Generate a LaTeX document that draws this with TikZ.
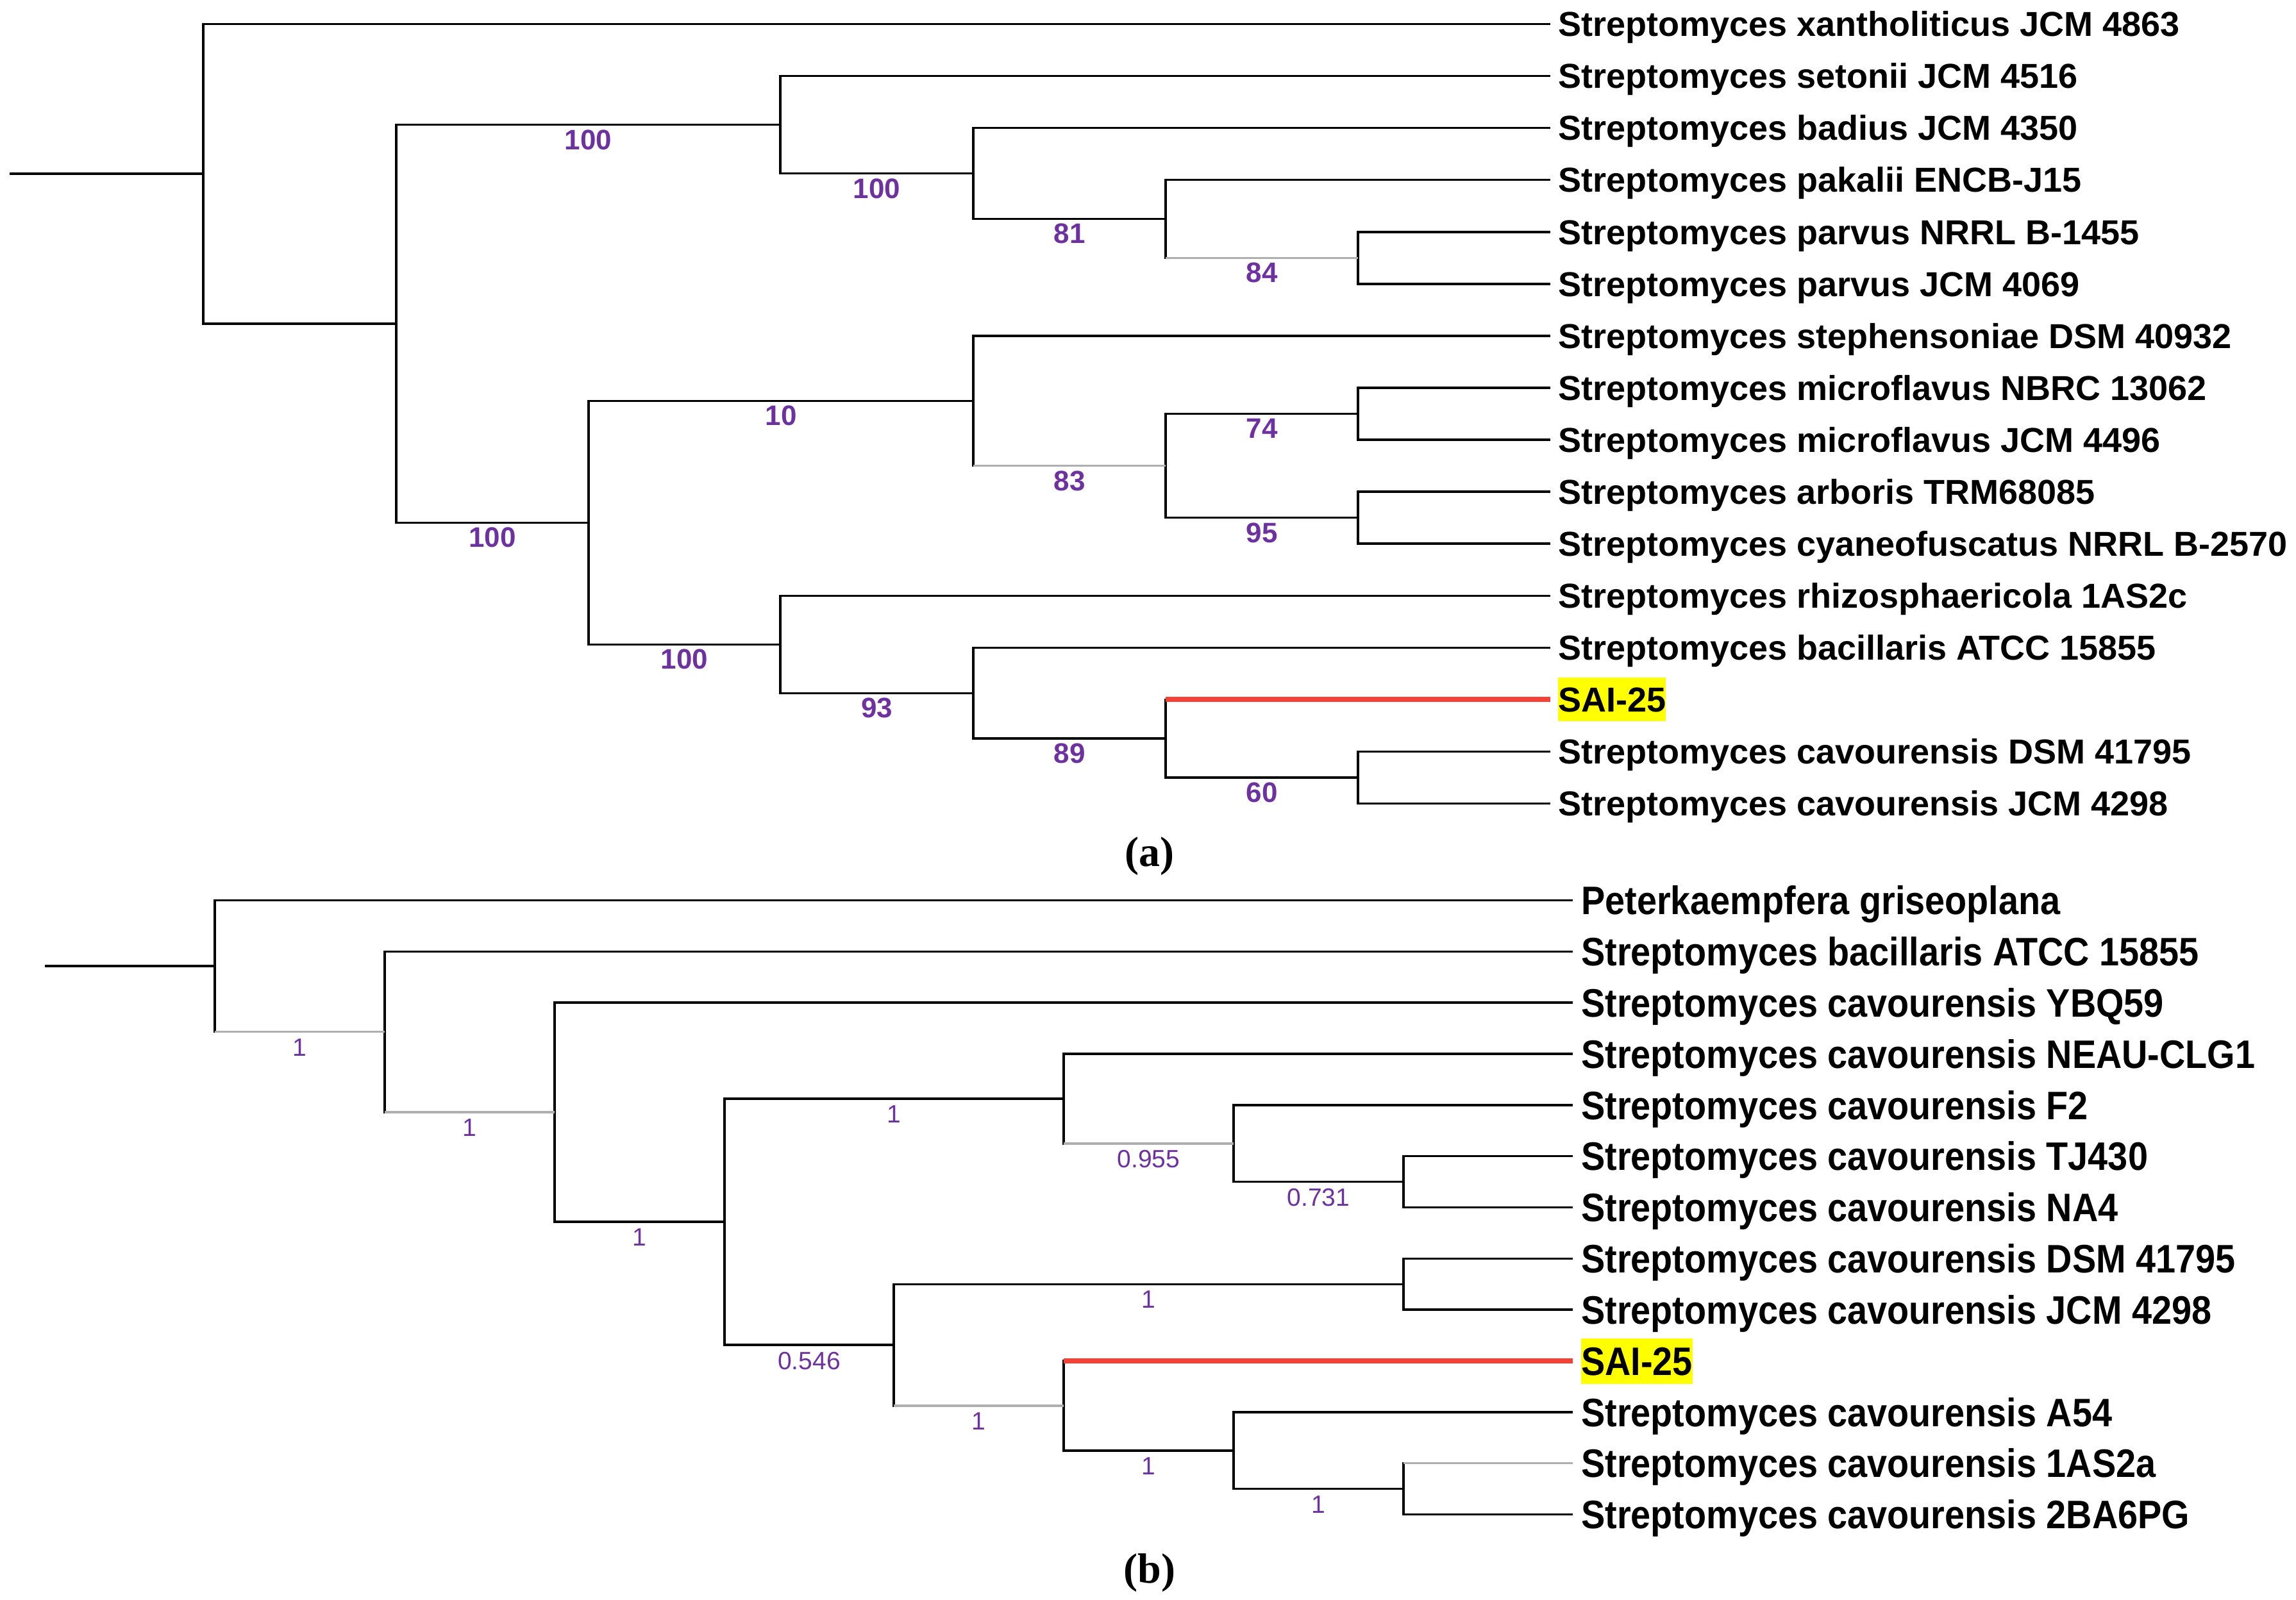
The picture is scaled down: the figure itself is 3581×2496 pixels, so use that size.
\documentclass[tikz,border=0pt]{standalone}
\usepackage{fontspec}
\setmainfont{Liberation Sans}
\newfontfamily\capfont{Liberation Serif}
\definecolor{bs}{RGB}{110,50,160}
\definecolor{hl}{RGB}{244,67,54}
\definecolor{lg}{RGB}{175,175,175}
\definecolor{hy}{RGB}{255,255,0}
\begin{document}
\begin{tikzpicture}[x=1pt,y=-1pt,
  br/.style={line width=3.5pt,black},
  lbr/.style={line width=3.5pt,lg},
  vbar/.style={line width=3.5pt,black,line cap=rect},
  redbr/.style={line width=8pt,hl},
  ttaxon/.style={anchor=base west,inner sep=0pt,xshift=12pt,yshift=-19.3pt,font=\fontsize{54}{58}\selectfont\bfseries},
  btaxon/.style={anchor=base west,inner sep=0pt,xshift=13pt,yshift=-22.2pt,xscale=0.9,font=\fontsize{62}{66}\selectfont\bfseries},
  tlab/.style={anchor=north,inner sep=0pt,yshift=-6pt,text=bs,font=\fontsize{44}{48}\selectfont\bfseries},
  blab/.style={anchor=north,inner sep=0pt,yshift=-9pt,text=bs,font=\fontsize{39}{42}\selectfont},
  capt/.style={inner sep=0pt,font=\capfont\fontsize{66}{70}\selectfont\bfseries}
]
\fill[white] (0,0) rectangle (3581,2496);
\useasboundingbox (0,0) rectangle (3581,2496);

% ================= tree (a) =================
\coordinate (ts)  at (15,271.2);
\coordinate (tR)  at (317,271.2);
\coordinate (t1)  at (618,504.95);
\coordinate (t2)  at (1217,194.6);
\coordinate (t3)  at (1518,270.6);
\coordinate (t4)  at (1818,341.5);
\coordinate (t4b) at (2118,402.35);
\coordinate (t5)  at (918,815.3);
\coordinate (t6)  at (1518,625.25);
\coordinate (t7)  at (1818,726.6);
\coordinate (t8a) at (2118,645.55);
\coordinate (t8b) at (2118,807.65);
\coordinate (t9)  at (1217,1005.3);
\coordinate (t10) at (1518,1081.25);
\coordinate (t11) at (1818,1152.2);
\coordinate (t12) at (2118,1213.05);

\coordinate (a0)  at (2418,37.5);
\coordinate (a1)  at (2418,118.6);
\coordinate (a2)  at (2418,199.6);
\coordinate (a3)  at (2418,280.7);
\coordinate (a4)  at (2418,361.8);
\coordinate (a5)  at (2418,442.9);
\coordinate (a6)  at (2418,523.9);
\coordinate (a7)  at (2418,605.0);
\coordinate (a8)  at (2418,686.1);
\coordinate (a9)  at (2418,767.1);
\coordinate (a10) at (2418,848.2);
\coordinate (a11) at (2418,929.3);
\coordinate (a12) at (2418,1010.3);
\coordinate (a13) at (2418,1091.4);
\coordinate (a14) at (2418,1172.5);
\coordinate (a15) at (2418,1253.6);

% vertical bars
\draw[vbar] (tR |- a0) -- (tR |- t1);
\draw[vbar] (t1 |- t2) -- (t1 |- t5);
\draw[vbar] (t2 |- a1) -- (t2 |- t3);
\draw[vbar] (t3 |- a2) -- (t3 |- t4);
\draw[vbar] (t4 |- a3) -- (t4 |- t4b);
\draw[vbar] (t4b |- a4) -- (t4b |- a5);
\draw[vbar] (t5 |- t6) -- (t5 |- t9);
\draw[vbar] (t6 |- a6) -- (t6 |- t7);
\draw[vbar] (t7 |- t8a) -- (t7 |- t8b);
\draw[vbar] (t8a |- a7) -- (t8a |- a8);
\draw[vbar] (t8b |- a9) -- (t8b |- a10);
\draw[vbar] (t9 |- a11) -- (t9 |- t10);
\draw[vbar] (t10 |- a12) -- (t10 |- t11);
\draw[vbar] (t11 |- a13) -- (t11 |- t12);
\draw[vbar] (t12 |- a14) -- (t12 |- a15);

% horizontal branches
\draw[br] (ts) -- (tR);
\draw[br] (tR |- a0) -- (a0);
\draw[br] (tR |- t1) -- (t1);
\draw[br] (t1 |- t2) -- (t2) node[tlab,midway]{100};
\draw[br] (t1 |- t5) -- (t5) node[tlab,midway]{100};
\draw[br] (t2 |- a1) -- (a1);
\draw[br] (t2 |- t3) -- (t3) node[tlab,midway]{100};
\draw[br] (t3 |- a2) -- (a2);
\draw[br] (t3 |- t4) -- (t4) node[tlab,midway]{81};
\draw[br] (t4 |- a3) -- (a3);
\draw[lbr] (t4 |- t4b) -- (t4b) node[tlab,midway]{84};
\draw[br] (t4b |- a4) -- (a4);
\draw[br] (t4b |- a5) -- (a5);
\draw[br] (t5 |- t6) -- (t6) node[tlab,midway]{10};
\draw[br] (t5 |- t9) -- (t9) node[tlab,midway]{100};
\draw[br] (t6 |- a6) -- (a6);
\draw[lbr] (t6 |- t7) -- (t7) node[tlab,midway]{83};
\draw[br] (t7 |- t8a) -- (t8a) node[tlab,midway]{74};
\draw[br] (t7 |- t8b) -- (t8b) node[tlab,midway]{95};
\draw[br] (t8a |- a7) -- (a7);
\draw[br] (t8a |- a8) -- (a8);
\draw[br] (t8b |- a9) -- (a9);
\draw[br] (t8b |- a10) -- (a10);
\draw[br] (t9 |- a11) -- (a11);
\draw[br] (t9 |- t10) -- (t10) node[tlab,midway]{93};
\draw[br] (t10 |- a12) -- (a12);
\draw[br] (t10 |- t11) -- (t11) node[tlab,midway]{89};
\draw[redbr] (t11 |- a13) -- (a13);
\draw[br] (t11 |- t12) -- (t12) node[tlab,midway]{60};
\draw[br] (t12 |- a14) -- (a14);
\draw[br] (t12 |- a15) -- (a15);

% taxa
\node[ttaxon] (na0)  at (a0)  {Streptomyces xantholiticus JCM 4863};
\node[ttaxon] (na1)  at (a1)  {Streptomyces setonii JCM 4516};
\node[ttaxon] (na2)  at (a2)  {Streptomyces badius JCM 4350};
\node[ttaxon] (na3)  at (a3)  {Streptomyces pakalii ENCB-J15};
\node[ttaxon] (na4)  at (a4)  {Streptomyces parvus NRRL B-1455};
\node[ttaxon] (na5)  at (a5)  {Streptomyces parvus JCM 4069};
\node[ttaxon] (na6)  at (a6)  {Streptomyces stephensoniae DSM 40932};
\node[ttaxon] (na7)  at (a7)  {Streptomyces microflavus NBRC 13062};
\node[ttaxon] (na8)  at (a8)  {Streptomyces microflavus JCM 4496};
\node[ttaxon] (na9)  at (a9)  {Streptomyces arboris TRM68085};
\node[ttaxon] (na10) at (a10) {Streptomyces cyaneofuscatus NRRL B-2570};
\node[ttaxon] (na11) at (a11) {Streptomyces rhizosphaericola 1AS2c};
\node[ttaxon] (na12) at (a12) {Streptomyces bacillaris ATCC 15855};
\node[ttaxon,fill=hy,text height=53.7pt,text depth=14.3pt] (na13) at (a13) {SAI-25};
\node[ttaxon] (na14) at (a14) {Streptomyces cavourensis DSM 41795};
\node[ttaxon] (na15) at (a15) {Streptomyces cavourensis JCM 4298};

\node[capt] (capa) at (1793,1336) {(a)};

% ================= tree (b) =================
\coordinate (ms)  at (70,1507.1);
\coordinate (mR)  at (335,1507.1);
\coordinate (m1)  at (600,1609.7);
\coordinate (m2)  at (865,1735.1);
\coordinate (m3)  at (1130,1906.0);
\coordinate (m4)  at (1659,1713.9);
\coordinate (m5)  at (1924,1783.75);
\coordinate (m5b) at (2189,1843.6);
\coordinate (m6)  at (1394,2098.1);
\coordinate (m7)  at (2189,2003.3);
\coordinate (m8)  at (1659,2192.95);
\coordinate (m9)  at (1924,2262.8);
\coordinate (m10) at (2189,2322.65);

\coordinate (b0)  at (2453,1404.5);
\coordinate (b1)  at (2453,1484.3);
\coordinate (b2)  at (2453,1564.2);
\coordinate (b3)  at (2453,1644.0);
\coordinate (b4)  at (2453,1723.9);
\coordinate (b5)  at (2453,1803.7);
\coordinate (b6)  at (2453,1883.5);
\coordinate (b7)  at (2453,1963.4);
\coordinate (b8)  at (2453,2043.2);
\coordinate (b9)  at (2453,2123.1);
\coordinate (b10) at (2453,2202.9);
\coordinate (b11) at (2453,2282.7);
\coordinate (b12) at (2453,2362.6);

\draw[vbar] (mR |- b0) -- (mR |- m1);
\draw[vbar] (m1 |- b1) -- (m1 |- m2);
\draw[vbar] (m2 |- b2) -- (m2 |- m3);
\draw[vbar] (m3 |- m4) -- (m3 |- m6);
\draw[vbar] (m4 |- b3) -- (m4 |- m5);
\draw[vbar] (m5 |- b4) -- (m5 |- m5b);
\draw[vbar] (m5b |- b5) -- (m5b |- b6);
\draw[vbar] (m6 |- m7) -- (m6 |- m8);
\draw[vbar] (m7 |- b7) -- (m7 |- b8);
\draw[vbar] (m8 |- b9) -- (m8 |- m9);
\draw[vbar] (m9 |- b10) -- (m9 |- m10);
\draw[vbar] (m10 |- b11) -- (m10 |- b12);

\draw[br] (ms) -- (mR);
\draw[br] (mR |- b0) -- (b0);
\draw[lbr] (mR |- m1) -- (m1) node[blab,midway]{1};
\draw[br] (m1 |- b1) -- (b1);
\draw[lbr] (m1 |- m2) -- (m2) node[blab,midway]{1};
\draw[br] (m2 |- b2) -- (b2);
\draw[br] (m2 |- m3) -- (m3) node[blab,midway]{1};
\draw[br] (m3 |- m4) -- (m4) node[blab,midway]{1};
\draw[br] (m3 |- m6) -- (m6) node[blab,midway]{0.546};
\draw[br] (m4 |- b3) -- (b3);
\draw[lbr] (m4 |- m5) -- (m5) node[blab,midway]{0.955};
\draw[br] (m5 |- b4) -- (b4);
\draw[br] (m5 |- m5b) -- (m5b) node[blab,midway]{0.731};
\draw[br] (m5b |- b5) -- (b5);
\draw[br] (m5b |- b6) -- (b6);
\draw[br] (m6 |- m7) -- (m7) node[blab,midway]{1};
\draw[lbr] (m6 |- m8) -- (m8) node[blab,midway]{1};
\draw[br] (m7 |- b7) -- (b7);
\draw[br] (m7 |- b8) -- (b8);
\draw[redbr] (m8 |- b9) -- (b9);
\draw[br] (m8 |- m9) -- (m9) node[blab,midway]{1};
\draw[br] (m9 |- b10) -- (b10);
\draw[br] (m9 |- m10) -- (m10) node[blab,midway]{1};
\draw[lbr] (m10 |- b11) -- (b11);
\draw[br] (m10 |- b12) -- (b12);

\node[btaxon] (nb0)  at (b0)  {Peterkaempfera griseoplana};
\node[btaxon] (nb1)  at (b1)  {Streptomyces bacillaris ATCC 15855};
\node[btaxon] (nb2)  at (b2)  {Streptomyces cavourensis YBQ59};
\node[btaxon] (nb3)  at (b3)  {Streptomyces cavourensis NEAU-CLG1};
\node[btaxon] (nb4)  at (b4)  {Streptomyces cavourensis F2};
\node[btaxon] (nb5)  at (b5)  {Streptomyces cavourensis TJ430};
\node[btaxon] (nb6)  at (b6)  {Streptomyces cavourensis NA4};
\node[btaxon] (nb7)  at (b7)  {Streptomyces cavourensis DSM 41795};
\node[btaxon] (nb8)  at (b8)  {Streptomyces cavourensis JCM 4298};
\node[btaxon,fill=hy,text height=57.7pt,text depth=13.3pt] (nb9) at (b9) {SAI-25};
\node[btaxon] (nb10) at (b10) {Streptomyces cavourensis A54};
\node[btaxon] (nb11) at (b11) {Streptomyces cavourensis 1AS2a};
\node[btaxon] (nb12) at (b12) {Streptomyces cavourensis 2BA6PG};

\node[capt] (capb) at (1793,2454) {(b)};
\end{tikzpicture}
\end{document}
